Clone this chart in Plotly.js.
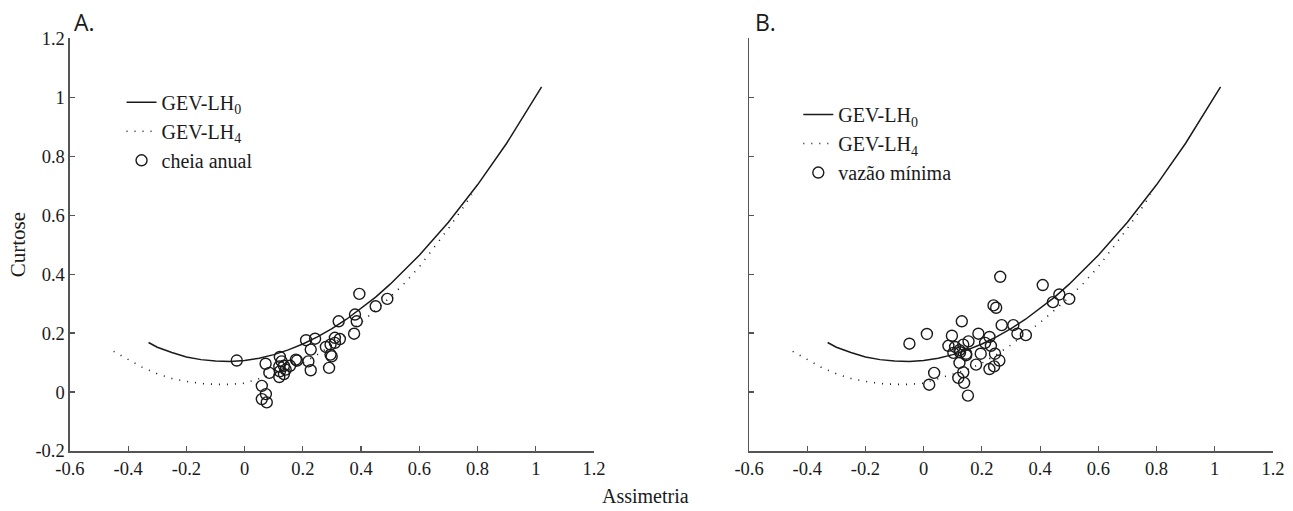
<!DOCTYPE html>
<html>
<head>
<meta charset="utf-8">
<script src="https://cdn.plot.ly/plotly-3.0.1.min.js"></script>
<style>html,body{margin:0;padding:0;background:#fff;}#chart{width:1293px;height:511px;}</style>
</head>
<body>
<div id="chart"></div>
<script>
// Theoretical curves
const skewLH0 = [-0.33,-0.3,-0.25,-0.2,-0.15,-0.1,-0.05,0,0.05,0.1,0.15,0.2,0.25,0.3,0.35,0.4,0.45,0.5,0.6,0.7,0.8,0.9,1.0,1.02];
const kurtLH0 = [0.168,0.152,0.134,0.119,0.110,0.105,0.104,0.107,0.115,0.127,0.143,0.163,0.187,0.215,0.247,0.283,0.322,0.366,0.464,0.576,0.703,0.844,1.0,1.035];
const skewLH4 = [-0.45,-0.4,-0.35,-0.3,-0.25,-0.2,-0.15,-0.1,-0.05,0,0.05,0.1,0.15,0.2,0.25,0.3,0.35,0.4,0.45,0.5,0.55,0.6,0.65,0.7,0.75,0.78];
const kurtLH4 = [0.138,0.110,0.083,0.062,0.046,0.036,0.029,0.026,0.026,0.030,0.045,0.060,0.076,0.098,0.127,0.160,0.198,0.236,0.278,0.322,0.370,0.425,0.490,0.555,0.625,0.670];

// Panel A: cheia anual
const skewA = [-0.027,0.072,0.085,0.059,0.073,0.059,0.076,0.121,0.127,0.119,0.135,0.121,0.135,0.119,0.141,0.156,0.176,0.180,0.211,0.242,0.227,0.219,0.227,0.279,0.295,0.310,0.327,0.310,0.295,0.299,0.290,0.323,0.376,0.379,0.385,0.394,0.450,0.490];
const kurtA = [0.107,0.096,0.065,0.021,-0.007,-0.024,-0.035,0.119,0.104,0.087,0.089,0.070,0.061,0.051,0.076,0.089,0.110,0.107,0.176,0.181,0.144,0.104,0.074,0.153,0.161,0.184,0.180,0.167,0.127,0.121,0.082,0.240,0.198,0.263,0.240,0.333,0.291,0.316];

// Panel B: vazão mínima
const skewB = [-0.049,0.011,0.036,0.019,0.097,0.131,0.085,0.108,0.123,0.136,0.154,0.146,0.125,0.123,0.136,0.119,0.139,0.152,0.188,0.180,0.196,0.211,0.226,0.231,0.245,0.260,0.242,0.226,0.240,0.249,0.263,0.268,0.308,0.322,0.351,0.409,0.444,0.466,0.500,0.102,0.146];
const kurtB = [0.164,0.197,0.065,0.025,0.191,0.240,0.157,0.153,0.142,0.161,0.172,0.130,0.135,0.099,0.067,0.048,0.031,-0.012,0.198,0.093,0.130,0.167,0.187,0.157,0.130,0.107,0.087,0.078,0.294,0.286,0.391,0.227,0.227,0.198,0.193,0.363,0.305,0.331,0.316,0.133,0.125];

const xTicks = [-0.6,-0.4,-0.2,0,0.2,0.4,0.6,0.8,1,1.2];
const xTickText = ['-0.6','-0.4','-0.2','0','0.2','0.4','0.6','0.8','1','1.2'];
const yTicks = [-0.2,0,0.2,0.4,0.6,0.8,1,1.2];
const yTickText = ['-0.2','0','0.2','0.4','0.6','0.8','1','1.2'];

const serif = '"Liberation Serif", "Times New Roman", Times, serif';
const solidLine = {color:'#1a1a1a', width:1.5};
const dotLine = {color:'#1a1a1a', width:1.6, dash:'1px,7px'};
const circ = {symbol:'circle-open', size:11, color:'#1a1a1a', line:{width:1.4, color:'#1a1a1a'}};

const traces = [
  {x:skewLH0, y:kurtLH0, xaxis:'x', yaxis:'y', mode:'lines', line:solidLine, name:'GEV-LH<sub>0</sub>', legend:'legend'},
  {x:skewLH4, y:kurtLH4, xaxis:'x', yaxis:'y', mode:'lines', line:dotLine, name:'GEV-LH<sub>4</sub>', legend:'legend'},
  {x:skewA, y:kurtA, xaxis:'x', yaxis:'y', mode:'markers', marker:circ, name:'cheia anual', legend:'legend'},
  {x:skewLH0, y:kurtLH0, xaxis:'x2', yaxis:'y2', mode:'lines', line:solidLine, name:'GEV-LH<sub>0</sub>', legend:'legend2'},
  {x:skewLH4, y:kurtLH4, xaxis:'x2', yaxis:'y2', mode:'lines', line:dotLine, name:'GEV-LH<sub>4</sub>', legend:'legend2'},
  {x:skewB, y:kurtB, xaxis:'x2', yaxis:'y2', mode:'markers', marker:circ, name:'vazão mínima', legend:'legend2'}
];

function xax(domain, anchor){
  return {domain:domain, anchor:anchor, range:[-0.6,1.2], tickvals:xTicks, ticktext:xTickText,
    showgrid:false, zeroline:false, showline:true, linecolor:'#555', linewidth:1.5,
    ticks:'inside', ticklen:5, tickwidth:1.2, tickcolor:'#555',
    tickfont:{family:serif, size:18.5, color:'#1a1a1a'}, automargin:false, fixedrange:true};
}
function yax(anchor, labels){
  return {domain:[0.1174,0.925], anchor:anchor, range:[-0.2,1.2], tickvals:yTicks, ticktext:yTickText,
    showticklabels:labels, showgrid:false, zeroline:false, showline:true, linecolor:'#555', linewidth:1.5,
    ticks:'inside', ticklen:5, tickwidth:1.2, tickcolor:'#555',
    tickfont:{family:serif, size:18.5, color:'#1a1a1a'}, automargin:false, fixedrange:true};
}
const legendBase = {bgcolor:'rgba(0,0,0,0)', borderwidth:0, font:{family:serif, size:20, color:'#1a1a1a'},
  xanchor:'left', yanchor:'top', tracegroupgap:0, itemwidth:30};

const layout = {
  width:1293, height:511, margin:{l:0,r:0,t:0,b:0}, paper_bgcolor:'#fff', plot_bgcolor:'#fff',
  font:{family:serif},
  showlegend:true,
  xaxis: xax([0.0541,0.4594],'y'),
  yaxis: yax('x', true),
  xaxis2: xax([0.5793,0.9845],'y2'),
  yaxis2: yax('x2', false),
  legend: Object.assign({x:0.094, y:0.838}, legendBase),
  legend2: Object.assign({x:0.6174, y:0.814}, legendBase),
  annotations:[
    {text:'A.', xref:'paper', yref:'paper', x:0.0556, y:0.957, xanchor:'left', yanchor:'middle', showarrow:false,
      font:{family:'"Open Sans"', size:23, color:'#1a1a1a'}},
    {text:'B.', xref:'paper', yref:'paper', x:0.5823, y:0.957, xanchor:'left', yanchor:'middle', showarrow:false,
      font:{family:'"Open Sans"', size:23, color:'#1a1a1a'}},
    {text:'Curtose', xref:'paper', yref:'paper', x:0.0135, y:0.521, xanchor:'center', yanchor:'middle', textangle:-90, showarrow:false,
      font:{family:serif, size:21, color:'#1a1a1a'}},
    {text:'Assimetria', xref:'paper', yref:'paper', x:0.4995, y:0.03, xanchor:'center', yanchor:'middle', showarrow:false,
      font:{family:serif, size:20, color:'#1a1a1a'}}
  ]
};

Plotly.newPlot('chart', traces, layout, {displayModeBar:false, staticPlot:true});
</script>
</body>
</html>
